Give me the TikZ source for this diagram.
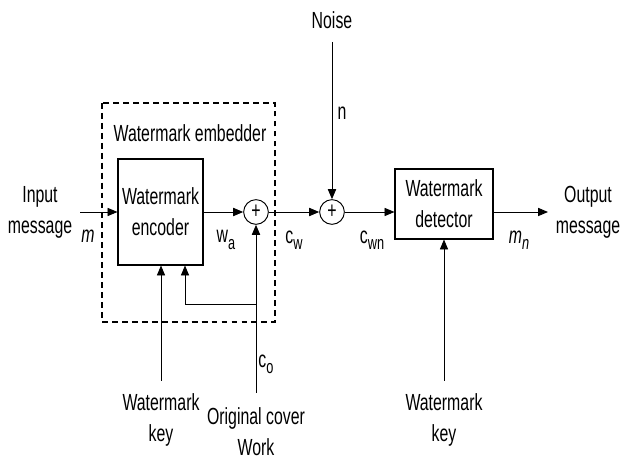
\documentclass[tikz,border=0pt]{standalone}
\usepackage{fontspec}
\setmainfont{Liberation Sans}[FakeStretch=0.68]
\usetikzlibrary{arrows.meta,positioning}
\newcommand{\subsc}[2]{#1\raisebox{-0.5ex}{\fontsize{16}{16}\selectfont #2}}

\begin{document}
\begin{tikzpicture}[x=.03cm,y=-.03cm,>={Triangle[length=8.5pt,width=7pt]},line width=.8pt,
  every node/.style={font=\fontsize{19.9}{26.5}\selectfont},
  blk/.style={draw,line width=.9pt,align=center,inner sep=0pt},
  sum/.style={draw,circle,minimum size=.74cm,inner sep=0pt,font=\fontsize{20}{20}\selectfont},
  lbl/.style={align=center}]
  \useasboundingbox (0,0) rectangle (630,459);
  % blocks
  \node[blk,minimum width=2.55cm,minimum height=3.18cm] (enc) at (160.5,212) {Watermark\\encoder};
  \node[sum] (add1) at (256,212) {+};
  \node[sum] (add2) at (332,212) {+};
  \node[blk,minimum width=2.94cm,minimum height=2.1cm] (det) at (444,204) {Watermark\\detector};
  \draw[line width=.9pt,dash pattern=on 5pt off 3.5pt] (102,103) rectangle (275,322);
  \node (emb) at (190,133) {Watermark embedder};
  % texts
  \node[lbl] (inmsg) at (40,212) {Input\\message};
  \node[lbl] (outmsg) at (588,212) {Output\\message};
  \node (noise) at (332,20) {Noise};
  \node[lbl] (key1) at (161,420) {Watermark\\key};
  \node[lbl] (key2) at (444,420) {Watermark\\key};
  \node[lbl] (cover) at (256,432) {Original cover\\Work};
  \node (m) at (88,236) {\textit{m}};
  \node (wa) at (226,240) {\subsc{w}{a}};
  \node (cw) at (294,240) {\subsc{c}{w}};
  \node (cwn) at (372,240) {\subsc{c}{wn}};
  \node (mn) at (519,240) {\textit{\subsc{m}{n}}};
  \node (colbl) at (266,364) {\subsc{c}{o}};
  \node (n) at (342,113) {n};
  % free ends
  \coordinate (inl) at (80,212);
  \coordinate (outr) at (548,212);
  \coordinate (ntop) at (332,42);
  \coordinate (k1) at (161,381);
  \coordinate (k2) at (444,381);
  \coordinate (co) at (256,393);
  \coordinate (fb) at (185,304);
  % connectors
  \draw[->] (inl) -- (enc);
  \draw[->] (enc) -- (add1);
  \draw[->] (add1) -- (add2);
  \draw[->] (ntop) -- (add2);
  \draw[->] (add2) -- (add2 -| det.west);
  \draw[->] (add2 -| det.east) -- (outr);
  \draw[->] (k1) -- (k1 |- enc.south);
  \draw[->] (k2) -- (det.south);
  \draw[->] (co) -- (add1);
  \draw[->] (co |- fb) -- (fb) -- (fb |- enc.south);
\end{tikzpicture}
\end{document}
